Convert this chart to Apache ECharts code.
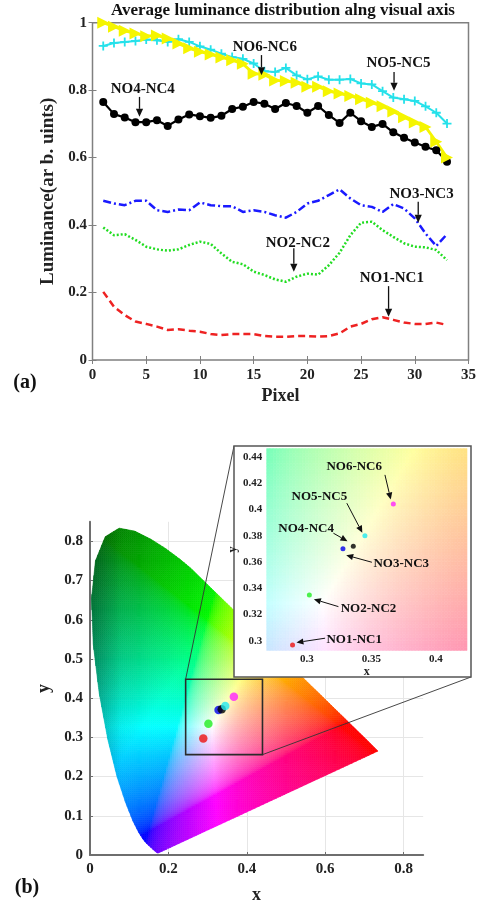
<!DOCTYPE html>
<html>
<head>
<meta charset="utf-8">
<script src="https://cdn.jsdelivr.net/npm/echarts@6/dist/echarts.min.js"></script>
<style>
  html, body { margin: 0; padding: 0; background: #fff; }
  #chart { width: 479px; height: 905px; }
</style>
</head>
<body>
<div id="chart"></div>
<script>
// ---------- (a) luminance profiles along the visual axis ----------
const pixels = [1,2,3,4,5,6,7,8,9,10,11,12,13,14,15,16,17,18,19,20,21,22,23,24,25,26,27,28,29,30,31,32,33];
const no1 = [0.202,0.158,0.133,0.114,0.107,0.099,0.089,0.091,0.087,0.084,0.077,0.074,0.077,0.077,0.077,0.071,0.069,0.069,0.071,0.071,0.069,0.071,0.079,0.099,0.107,0.121,0.127,0.119,0.111,0.107,0.107,0.111,0.104];
const no2 = [0.393,0.370,0.373,0.356,0.336,0.328,0.324,0.328,0.341,0.351,0.344,0.316,0.291,0.284,0.262,0.252,0.239,0.232,0.247,0.256,0.253,0.281,0.318,0.370,0.407,0.410,0.385,0.365,0.346,0.336,0.334,0.326,0.296];
const no3 = [0.472,0.464,0.459,0.472,0.472,0.444,0.439,0.446,0.444,0.467,0.459,0.456,0.456,0.439,0.444,0.439,0.429,0.422,0.439,0.464,0.472,0.489,0.506,0.479,0.459,0.454,0.439,0.462,0.449,0.420,0.375,0.338,0.373];
const no4 = [0.765,0.729,0.719,0.705,0.705,0.711,0.694,0.713,0.728,0.723,0.718,0.724,0.744,0.751,0.765,0.760,0.744,0.762,0.753,0.733,0.753,0.726,0.703,0.733,0.708,0.691,0.700,0.675,0.659,0.645,0.632,0.622,0.588];
const no5 = [0.931,0.940,0.943,0.946,0.950,0.948,0.943,0.951,0.943,0.930,0.920,0.908,0.898,0.893,0.879,0.856,0.854,0.866,0.844,0.832,0.841,0.831,0.831,0.833,0.820,0.817,0.797,0.778,0.773,0.768,0.752,0.733,0.701];
const no6 = [1.000,0.988,0.976,0.968,0.960,0.962,0.953,0.938,0.924,0.914,0.906,0.897,0.889,0.878,0.849,0.846,0.829,0.827,0.822,0.810,0.810,0.797,0.790,0.783,0.773,0.763,0.752,0.737,0.720,0.704,0.691,0.647,0.600];
const xTicksA = [0, 35, 5];
const yTicksA = [0, 1, 0.2];

// ---------- (b) chromaticity coordinates ----------
const sampleNames = ['NO1-NC1','NO2-NC2','NO3-NC3','NO4-NC4','NO5-NC5','NO6-NC6'];
const chromaX = [0.289, 0.302, 0.328, 0.336, 0.345, 0.367];
const chromaY = [0.297, 0.335, 0.370, 0.372, 0.380, 0.404];

// CIE 1931 2-degree spectral locus (380 nm, 420-650 nm every 5 nm, 700 nm)
const locusX = [0.1741,0.1714,0.1703,0.1689,0.1669,0.1644,0.1611,0.1566,0.1510,0.1440,0.1355,0.1241,0.1096,0.0913,0.0687,0.0454,0.0235,0.0082,0.0039,0.0139,0.0389,0.0743,0.1142,0.1547,0.1929,0.2296,0.2658,0.3016,0.3373,0.3731,0.4087,0.4441,0.4788,0.5125,0.5448,0.5752,0.6029,0.6270,0.6482,0.6658,0.6801,0.6915,0.7006,0.7079,0.7140,0.7190,0.7230,0.7260,0.7347];
const locusY = [0.0050,0.0051,0.0058,0.0069,0.0086,0.0109,0.0138,0.0177,0.0227,0.0297,0.0399,0.0578,0.0868,0.1327,0.2007,0.2950,0.4127,0.5384,0.6548,0.7502,0.8120,0.8338,0.8262,0.8059,0.7816,0.7543,0.7243,0.6923,0.6589,0.6245,0.5896,0.5547,0.5202,0.4866,0.4544,0.4242,0.3965,0.3725,0.3514,0.3340,0.3197,0.3083,0.2993,0.2920,0.2859,0.2809,0.2770,0.2740,0.2653];

// ---------- styling and layout ----------
const FONT = '"Liberation Serif", "Times New Roman", serif';
const seriesColors = ['#ee2222', '#22dd22', '#1a1aff', '#000000', '#25e1ea', '#f5f500'];
const pointColors = ['#ee1111', '#22ee22', '#0000ee', '#000000', '#22e8f0', '#ff22ff'];

const gridA = { left: 92.5, top: 22.7, width: 380, height: 337.3 };
const gridB = { left: 90, top: 521.8, width: 333.2, height: 334.9 };
const gridI = { left: 266.7, top: 448.3, width: 200.3, height: 202.4 };
const insetFrame = { x: 234, y: 446, w: 237, h: 231 };
const zoomBox = { x0: 0.244, x1: 0.44, y0: 0.256, y1: 0.4485 };

// Callouts: label centre and arrow (from -> to), in data units of each panel
const notesA = [
  { text: 'NO6-NC6', at: [16.04, 0.928], from: [15.73, 0.904], to: [15.73, 0.844] },
  { text: 'NO5-NC5', at: [28.48, 0.881], from: [28.07, 0.854], to: [28.07, 0.798] },
  { text: 'NO4-NC4', at: [4.68, 0.802], from: [4.375, 0.780], to: [4.375, 0.721] },
  { text: 'NO3-NC3', at: [30.63, 0.492], from: [30.32, 0.469], to: [30.32, 0.407] },
  { text: 'NO2-NC2', at: [19.11, 0.346], from: [18.74, 0.331], to: [18.74, 0.262] },
  { text: 'NO1-NC1', at: [27.86, 0.242], from: [27.56, 0.219], to: [27.56, 0.128] }
];
const notesI = [
  { text: 'NO6-NC6', at: [0.3367, 0.4326], from: [0.3605, 0.4262], to: [0.3650, 0.4075] },
  { text: 'NO5-NC5', at: [0.3098, 0.4097], from: [0.3310, 0.4047], to: [0.3430, 0.3822] },
  { text: 'NO4-NC4', at: [0.2995, 0.3857], from: [0.3206, 0.3819], to: [0.3315, 0.3758] },
  { text: 'NO3-NC3', at: [0.3731, 0.3591], from: [0.3504, 0.3598], to: [0.3305, 0.3652] },
  { text: 'NO2-NC2', at: [0.3478, 0.3249], from: [0.3245, 0.3261], to: [0.3055, 0.3317] },
  { text: 'NO1-NC1', at: [0.3367, 0.3013], from: [0.3142, 0.3021], to: [0.2920, 0.2988] }
];

// ---------- colour helpers ----------
const clamp = (v, a, b) => Math.min(b, Math.max(a, v));
const gammaEnc = v => v <= 0.0031308 ? 12.92 * v : 1.055 * Math.pow(v, 1 / 2.4) - 0.055;
// xy chromaticity -> display colour; shade darkens the outer green/cyan rim,
// wash blends toward white
function xyToRgb(x, y, shade, wash) {
  const X = x / y, Y = 1, Z = (1 - x - y) / y;
  let r = Math.max(0, 3.2406 * X - 1.5372 * Y - 0.4986 * Z);
  let g = Math.max(0, -0.9689 * X + 1.8758 * Y + 0.0415 * Z);
  let b = Math.max(0, 0.0557 * X - 0.2040 * Y + 1.0570 * Z);
  const m = Math.max(r, g, b) || 1;
  let f = 1;
  if (shade) f = clamp(1.1 + 1.2 * x - 0.8 * y, 0.45, 1) * (0.75 + 0.25 * clamp(x / 0.08, 0, 1));
  const w = wash || 0;
  const c = v => Math.round((clamp(gammaEnc(v / m), 0, 1) * f * (1 - w) + w) * 255);
  return 'rgb(' + c(r) + ',' + c(g) + ',' + c(b) + ')';
}

// Convex clipping of a cell against the spectral locus (Sutherland-Hodgman)
const locus = locusX.map((x, i) => [x, locusY[i]]);
let area2 = 0;
for (let i = 0; i < locus.length; i++) {
  const a = locus[i], b = locus[(i + 1) % locus.length];
  area2 += a[0] * b[1] - b[0] * a[1];
}
const orient = area2 < 0 ? -1 : 1;
function clipToLocus(poly) {
  let out = poly;
  for (let i = 0; i < locus.length && out.length; i++) {
    const a = locus[i], b = locus[(i + 1) % locus.length];
    const side = p => orient * ((b[0] - a[0]) * (p[1] - a[1]) - (b[1] - a[1]) * (p[0] - a[0]));
    const inp = out; out = [];
    for (let j = 0; j < inp.length; j++) {
      const P = inp[j], Q = inp[(j + 1) % inp.length];
      const sp = side(P), sq = side(Q);
      if (sp >= 0) out.push(P);
      if ((sp >= 0) !== (sq >= 0)) {
        const t = sp / (sp - sq);
        out.push([P[0] + t * (Q[0] - P[0]), P[1] + t * (Q[1] - P[1])]);
      }
    }
  }
  return out;
}

// Filled chromaticity diagram, built cell by cell
function renderLocusFill(params, api) {
  const step = 0.005;
  const children = [];
  const minX = Math.min(...locusX), maxX = Math.max(...locusX);
  const minY = Math.min(...locusY), maxY = Math.max(...locusY);
  for (let x = Math.floor(minX / step) * step; x < maxX; x += step) {
    for (let y = Math.floor(minY / step) * step; y < maxY; y += step) {
      const cell = [[x, y], [x + step, y], [x + step, y + step], [x, y + step]];
      const poly = clipToLocus(cell);
      if (poly.length < 3) continue;
      let cx = 0, cy = 0;
      poly.forEach(p => { cx += p[0]; cy += p[1]; });
      cx /= poly.length; cy /= poly.length;
      const col = xyToRgb(cx, cy, true, 0);
      children.push({
        type: 'polygon',
        shape: { points: poly.map(p => api.coord(p)) },
        style: { fill: col, stroke: col, lineWidth: 0.6 },
        silent: true
      });
    }
  }
  return { type: 'group', children };
}

// Magnified background of the inset
function renderInsetFill(params, api) {
  const step = 0.0025;
  const children = [];
  const xs = [0.269, 0.424], ys = [0.2926, 0.4464];
  for (let x = xs[0]; x < xs[1]; x += step) {
    for (let y = ys[0]; y < ys[1]; y += step) {
      const x1 = Math.min(x + step, xs[1]), y1 = Math.min(y + step, ys[1]);
      const p0 = api.coord([x, y1]), p1 = api.coord([x1, y]);
      const col = xyToRgb((x + x1) / 2, (y + y1) / 2, false, 0.22);
      children.push({
        type: 'rect',
        shape: { x: p0[0], y: p0[1], width: p1[0] - p0[0], height: p1[1] - p0[1] },
        style: { fill: col, stroke: col, lineWidth: 0.6 },
        silent: true
      });
    }
  }
  return { type: 'group', children };
}

// Callout text with arrow
function makeNoteRenderer(notes, fontSize, head, lineW) {
  return function (params, api) {
    const n = notes[params.dataIndex];
    const t = api.coord(n.at), a = api.coord(n.from), b = api.coord(n.to);
    const dx = b[0] - a[0], dy = b[1] - a[1];
    const len = Math.sqrt(dx * dx + dy * dy) || 1;
    const ux = dx / len, uy = dy / len;
    const base = [b[0] - ux * head, b[1] - uy * head];
    const w = head * 0.45;
    return {
      type: 'group',
      children: [
        { type: 'text', x: t[0], y: t[1],
          style: { text: n.text, fontFamily: FONT, fontWeight: 'bold', fontSize: fontSize,
                   fill: '#111', align: 'center', verticalAlign: 'middle' } },
        { type: 'line', shape: { x1: a[0], y1: a[1], x2: base[0], y2: base[1] },
          style: { stroke: '#111', lineWidth: lineW } },
        { type: 'polygon',
          shape: { points: [b, [base[0] - uy * w, base[1] + ux * w], [base[0] + uy * w, base[1] - ux * w]] },
          style: { fill: '#111' } }
      ]
    };
  };
}

// ---------- series ----------
const plusPath = 'path://M4,0 L6,0 L6,4 L10,4 L10,6 L6,6 L6,10 L4,10 L4,6 L0,6 L0,4 L4,4 Z';
const triPath = 'path://M0,0 L10,5 L0,10 Z';
const pairs = vals => pixels.map((p, i) => [p, vals[i]]);

const lineSeries = [
  { name: 'NO1-NC1', data: pairs(no1), color: seriesColors[0], lineType: [7, 4], width: 2.5, symbol: 'none' },
  { name: 'NO2-NC2', data: pairs(no2), color: seriesColors[1], lineType: [2, 2], width: 2.5, symbol: 'none' },
  { name: 'NO3-NC3', data: pairs(no3), color: seriesColors[2], lineType: [8, 3, 2, 3], width: 2.5, symbol: 'none' },
  { name: 'NO4-NC4', data: pairs(no4), color: seriesColors[3], lineType: 'solid', width: 2.2, symbol: 'circle', size: 8 },
  { name: 'NO5-NC5', data: pairs(no5), color: seriesColors[4], lineType: 'solid', width: 2, symbol: plusPath, size: 9 },
  { name: 'NO6-NC6', data: pairs(no6), color: seriesColors[5], lineType: 'solid', width: 2.8, symbol: triPath, size: 12 }
].map(s => ({
  type: 'line', name: s.name, xAxisIndex: 0, yAxisIndex: 0, data: s.data,
  symbol: s.symbol, symbolSize: s.size || 0, showSymbol: s.symbol !== 'none',
  lineStyle: { color: s.color, width: s.width, type: s.lineType },
  itemStyle: { color: s.color, borderWidth: 0 },
  z: 3, silent: true, animation: false
}));

const pointData = chromaX.map((x, i) => ({ value: [x, chromaY[i]], name: sampleNames[i], itemStyle: { color: pointColors[i] } }));

const axisFont = { fontFamily: FONT, fontWeight: 'bold', color: '#222' };

const option = {
  animation: false,
  grid: [
    Object.assign({ show: true, borderColor: '#808080', borderWidth: 1.5, backgroundColor: 'transparent' }, gridA),
    gridB,
    gridI
  ],
  graphic: [
    { type: 'text', x: 283, y: 11, style: { text: 'Average luminance distribution alng visual axis', fontFamily: FONT, fontWeight: 'bold', fontSize: 17, fill: '#111', align: 'center', verticalAlign: 'middle' } },
    { type: 'text', x: 25, y: 383, style: { text: '(a)', fontFamily: FONT, fontWeight: 'bold', fontSize: 20, fill: '#111', align: 'center', verticalAlign: 'middle' } },
    { type: 'text', x: 27, y: 888, style: { text: '(b)', fontFamily: FONT, fontWeight: 'bold', fontSize: 20, fill: '#111', align: 'center', verticalAlign: 'middle' } }
  ],
  xAxis: [
    { gridIndex: 0, type: 'value', min: xTicksA[0], max: xTicksA[1], interval: xTicksA[2],
      name: 'Pixel', nameLocation: 'middle', nameGap: 27,
      nameTextStyle: Object.assign({ fontSize: 18 }, axisFont),
      axisLine: { show: false }, splitLine: { show: false },
      axisTick: { inside: true, length: 4, lineStyle: { color: '#808080' } },
      axisLabel: Object.assign({ fontSize: 15, margin: 8 }, axisFont) },
    { gridIndex: 0, type: 'value', position: 'top', min: xTicksA[0], max: xTicksA[1], interval: xTicksA[2],
      axisLine: { show: false }, splitLine: { show: false }, axisLabel: { show: false },
      axisTick: { inside: true, length: 4, lineStyle: { color: '#808080' } } },
    { gridIndex: 1, type: 'value', min: 0, max: 0.85, interval: 0.2,
      name: 'x', nameLocation: 'middle', nameGap: 31,
      nameTextStyle: Object.assign({ fontSize: 18 }, axisFont),
      axisLine: { lineStyle: { color: '#6e6e6e', width: 2 } },
      axisTick: { inside: true, length: 3, lineStyle: { color: '#6e6e6e' } },
      splitLine: { show: true, showMaxLine: false, lineStyle: { color: '#e6e6e6', width: 1 } },
      axisLabel: Object.assign({ fontSize: 15, margin: 7, showMaxLabel: false }, axisFont) },
    { gridIndex: 2, type: 'value', min: 0.269, max: 0.424, splitNumber: 3, z: 9,
      name: 'x', nameLocation: 'middle', nameGap: 15,
      nameTextStyle: Object.assign({ fontSize: 12 }, axisFont),
      axisLine: { show: false }, axisTick: { show: false }, splitLine: { show: false },
      axisLabel: Object.assign({ fontSize: 11, margin: 3, showMinLabel: false, showMaxLabel: false }, axisFont) }
  ],
  yAxis: [
    { gridIndex: 0, type: 'value', min: yTicksA[0], max: yTicksA[1], interval: yTicksA[2],
      name: 'Luminance(ar b. uints)', nameLocation: 'middle', nameGap: 28,
      nameTextStyle: Object.assign({ fontSize: 19 }, axisFont),
      axisLine: { show: false }, splitLine: { show: false },
      axisTick: { inside: true, length: 4, lineStyle: { color: '#808080' } },
      axisLabel: Object.assign({ fontSize: 15, margin: 5.5 }, axisFont) },
    { gridIndex: 0, type: 'value', position: 'right', min: yTicksA[0], max: yTicksA[1], interval: yTicksA[2],
      axisLine: { show: false }, splitLine: { show: false }, axisLabel: { show: false },
      axisTick: { inside: true, length: 4, lineStyle: { color: '#808080' } } },
    { gridIndex: 1, type: 'value', min: 0, max: 0.85, interval: 0.1,
      name: 'y', nameLocation: 'middle', nameGap: 27,
      nameTextStyle: Object.assign({ fontSize: 18 }, axisFont),
      axisLine: { lineStyle: { color: '#6e6e6e', width: 2 } },
      axisTick: { inside: true, length: 3, lineStyle: { color: '#6e6e6e' } },
      splitLine: { show: true, showMaxLine: false, lineStyle: { color: '#e6e6e6', width: 1 } },
      axisLabel: Object.assign({ fontSize: 15, margin: 7, showMaxLabel: false }, axisFont) },
    { gridIndex: 2, type: 'value', min: 0.2926, max: 0.4464, splitNumber: 7, z: 9,
      name: 'y', nameLocation: 'middle', nameGap: 28,
      nameTextStyle: Object.assign({ fontSize: 12 }, axisFont),
      axisLine: { show: false }, axisTick: { show: false }, splitLine: { show: false },
      axisLabel: Object.assign({ fontSize: 11, margin: 4.5, showMinLabel: false, showMaxLabel: false }, axisFont) }
  ],
  series: [
    ...lineSeries,
    { type: 'custom', xAxisIndex: 0, yAxisIndex: 0, data: notesA.map(n => n.at), z: 6, silent: true,
      renderItem: makeNoteRenderer(notesA, 15, 8, 1.3) },

    // chromaticity diagram
    { type: 'custom', xAxisIndex: 2, yAxisIndex: 2, data: [[0.3, 0.3]], z: 2, silent: true,
      clip: false, renderItem: renderLocusFill },
    { type: 'custom', xAxisIndex: 2, yAxisIndex: 2, data: [[zoomBox.x0, zoomBox.y0]], z: 3, silent: true,
      clip: false,
      renderItem: function (params, api) {
        const tl = api.coord([zoomBox.x0, zoomBox.y1]);
        const br = api.coord([zoomBox.x1, zoomBox.y0]);
        return { type: 'group', children: [
          { type: 'rect', shape: { x: tl[0], y: tl[1], width: br[0] - tl[0], height: br[1] - tl[1] },
            style: { fill: 'none', stroke: '#2b2b2b', lineWidth: 1.6 } },
          { type: 'line', shape: { x1: tl[0], y1: tl[1], x2: insetFrame.x, y2: insetFrame.y },
            style: { stroke: '#333', lineWidth: 0.9 } },
          { type: 'line', shape: { x1: br[0], y1: br[1], x2: insetFrame.x + insetFrame.w, y2: insetFrame.y + insetFrame.h },
            style: { stroke: '#333', lineWidth: 0.9 } }
        ] };
      } },
    { type: 'scatter', xAxisIndex: 2, yAxisIndex: 2, data: pointData, symbol: 'circle', symbolSize: 8.5,
      z: 4, silent: true },

    // inset panel
    { type: 'custom', coordinateSystem: 'none', data: [0], z: 5, silent: true,
      renderItem: function () {
        return { type: 'rect', shape: { x: insetFrame.x, y: insetFrame.y, width: insetFrame.w, height: insetFrame.h },
                 style: { fill: '#ffffff', stroke: '#555', lineWidth: 1.5 } };
      } },
    { type: 'custom', xAxisIndex: 3, yAxisIndex: 3, data: [[0.33, 0.36]], z: 6, silent: true,
      clip: true, renderItem: renderInsetFill },
    { type: 'scatter', xAxisIndex: 3, yAxisIndex: 3, data: pointData, symbol: 'circle', symbolSize: 5,
      z: 7, silent: true },
    { type: 'custom', xAxisIndex: 3, yAxisIndex: 3, data: notesI.map(n => n.at), z: 8, silent: true,
      renderItem: makeNoteRenderer(notesI, 13, 7, 1) }
  ]
};

const chart = echarts.init(document.getElementById('chart'), null, { renderer: 'canvas' });
chart.setOption(option);
</script>
</body>
</html>
